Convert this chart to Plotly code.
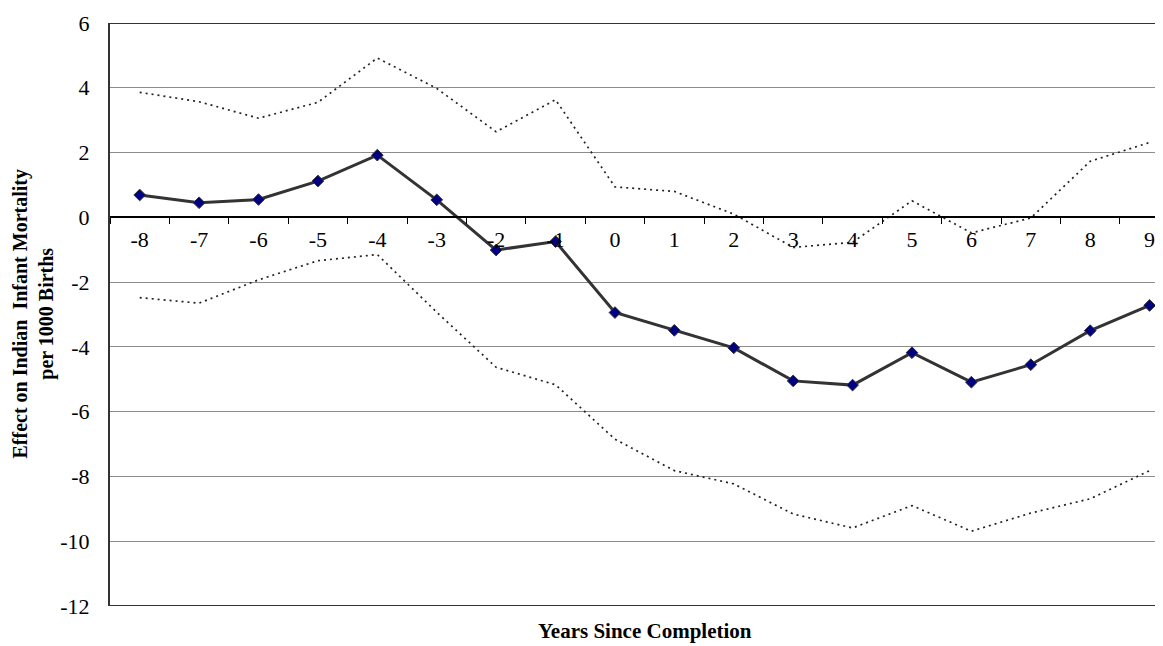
import plotly.graph_objects as go

years = [-8, -7, -6, -5, -4, -3, -2, -1, 0, 1, 2, 3, 4, 5, 6, 7, 8, 9]
estimate = [0.69, 0.45, 0.55, 1.12, 1.92, 0.54, -1.01, -0.75, -2.94, -3.49,
            -4.03, -5.05, -5.18, -4.18, -5.09, -4.55, -3.50, -2.72]
upper_ci = [3.86, 3.57, 3.06, 3.55, 4.92, 3.98, 2.64, 3.63, 0.94, 0.80,
            0.10, -0.93, -0.77, 0.51, -0.48, -0.02, 1.73, 2.31]
lower_ci = [-2.48, -2.65, -1.93, -1.34, -1.15, -2.93, -4.63, -5.17, -6.85, -7.82,
            -8.23, -9.16, -9.59, -8.90, -9.69, -9.13, -8.69, -7.82]
y_ticks = [6, 4, 2, 0, -2, -4, -6, -8, -10, -12]
y_tick_text = ["6", "4", "2", "0", "-2", "-4", "-6", "-8", "-10", "-12"]
x_labels = [str(v) for v in years]

FONT = "Liberation Serif"
AX = "#333333"

fig = go.Figure()
fig.add_trace(go.Scatter(x=x_labels, y=upper_ci, mode="lines",
                         line=dict(color="#222222", width=1.7, dash="2px,4px"),
                         showlegend=False))
fig.add_trace(go.Scatter(x=x_labels, y=lower_ci, mode="lines",
                         line=dict(color="#222222", width=1.7, dash="2px,4px"),
                         showlegend=False))
fig.add_trace(go.Scatter(x=x_labels, y=estimate, mode="lines+markers",
                         line=dict(color="#333333", width=3),
                         marker=dict(symbol="diamond", size=9, color="#000080",
                                     line=dict(color="#333333", width=1)),
                         showlegend=False))

# vertical reference line at year -1
fig.add_shape(type="line", xref="x", yref="y", x0="-1", x1="-1", y0=-12, y1=6,
              line=dict(color=AX, width=1.6), layer="above")
# top and bottom borders
fig.add_shape(type="line", xref="paper", yref="y", x0=0, x1=1, y0=6, y1=6,
              line=dict(color=AX, width=2))
fig.add_shape(type="line", xref="paper", yref="y", x0=0, x1=1, y0=-12, y1=-12,
              line=dict(color=AX, width=2))

fig.update_layout(
    width=1163, height=646,
    margin=dict(l=102, r=0, t=15, b=48),
    paper_bgcolor="white", plot_bgcolor="white",
    font=dict(family=FONT, size=21, color="black"),
    xaxis=dict(type="category", categoryorder="array", categoryarray=x_labels,
               range=[-0.5, 17.36], anchor="free", position=12/18,
               showline=True, linecolor="black", linewidth=1.5,
               ticks="outside", ticklen=6, tickcolor="black", tickwidth=1,
               tickson="boundaries", showgrid=False, zeroline=False,
               tickfont=dict(family=FONT, size=22, color="black"),
               ticklabelstandoff=3),
    yaxis=dict(range=[-12, 6], tickvals=y_ticks, ticktext=y_tick_text,
               showgrid=True, gridcolor="#8c8c8c", gridwidth=1, zeroline=False,
               showline=True, linecolor=AX, linewidth=2, ticks="",
               tickfont=dict(family=FONT, size=22, color="black"),
               ticklabelstandoff=14),
    annotations=[
        dict(text="<b>Effect on Indian  Infant Mortality<br>per 1000 Births</b>",
             xref="paper", yref="paper", x=(25 - 102) / 1061, y=0.5,
             xanchor="center", yanchor="middle", textangle=-90, showarrow=False,
             font=dict(family=FONT, size=20, color="black")),
        dict(text="<b>Years Since Completion</b>",
             xref="paper", yref="paper", x=(637 - 102) / 1061, y=-25 / 583,
             xanchor="center", yanchor="middle", showarrow=False,
             font=dict(family=FONT, size=21, color="black")),
    ],
)

fig.write_html("out.html")
